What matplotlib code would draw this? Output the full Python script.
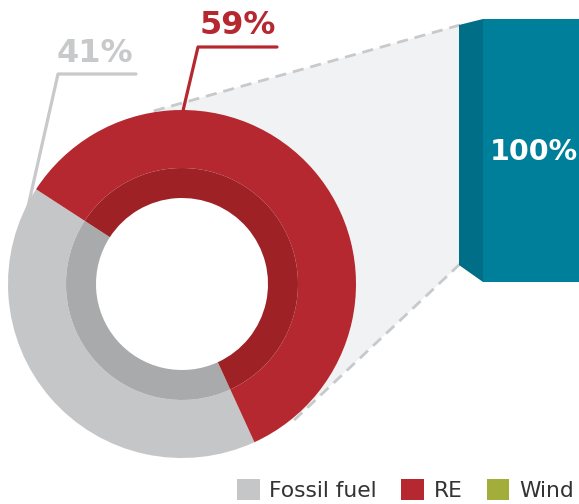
import matplotlib.pyplot as plt
from matplotlib.patches import Polygon, Patch

# data
labels = ["Fossil fuel", "RE"]
shares = [41, 59]
legend_labels = ["Fossil fuel", "RE", "Wind"]
legend_colors = ["#c5c6c8", "#b5282f", "#a3ad3a"]
bar_value = 100

outer_colors = ["#c5c6c8", "#b5282f"]
inner_colors = ["#a9aaac", "#9e2126"]

W, H = 579, 504
fig = plt.figure(figsize=(W / 100, H / 100), dpi=100)
ax = fig.add_axes([0, 0, 1, 1])

cx, cy = 182, H - 284
R = 174

# grey zoom area behind the donut (kept out of the hole)
pts = [(157, 110), (460, 25), (460, 264), (300, 414), (285, 330), (265, 215), (200, 155)]
zoom = Polygon([(x, H - y) for x, y in pts], closed=True,
               facecolor="#f1f2f4", edgecolor="none", zorder=0)
ax.add_patch(zoom)
ax.plot([460, 150], [H - 25, H - 112], ls=(0, (4, 2.5)), color="#c8c9cb", lw=2, zorder=1)
ax.plot([460, 290], [H - 264, H - 424], ls=(0, (4, 2.5)), color="#c8c9cb", lw=2, zorder=1)

# leader lines
ax.plot([136, 58, 25], [H - 74, H - 74, H - 220], color="#c8c9cb", lw=2.3,
        solid_capstyle="round", zorder=1)
ax.plot([277, 198, 182], [H - 47, H - 47, H - 115], color="#b5282f", lw=2.3,
        solid_capstyle="round", zorder=1)

# donut
w1, _ = ax.pie(shares, colors=outer_colors, radius=R, center=(cx, cy), startangle=147,
               counterclock=True, wedgeprops=dict(width=R - 116, edgecolor="none"))
w2, _ = ax.pie(shares, colors=inner_colors, radius=116, center=(cx, cy), startangle=147,
               counterclock=True, wedgeprops=dict(width=30, edgecolor="none"))
for w in w1 + w2:
    w.set_zorder(2)

ax.text(95, H - 53, f"{shares[0]}%", color="#c8c9cb", fontsize=23, fontweight="bold",
        ha="center", va="center", zorder=3)
ax.text(238, H - 25, f"{shares[1]}%", color="#b5282f", fontsize=23, fontweight="bold",
        ha="center", va="center", zorder=3)

# 100% bar (front face + side face)
scale = (282 - 19) / bar_value
bottom = H - 282
ax.bar([531], [bar_value * scale], width=96, bottom=bottom, color="#007f9a", zorder=2)
top = bottom + bar_value * scale
side = Polygon([(459, H - 25), (483, top), (483, bottom), (459, H - 265)], closed=True,
               facecolor="#006e86", edgecolor="none", zorder=2)
ax.add_patch(side)
ax.text(534, H - 152, f"{bar_value}%", color="white", fontsize=20.5, fontweight="bold",
        ha="center", va="center", zorder=3)

ax.set_xlim(0, W)
ax.set_ylim(0, H)
ax.set_aspect("auto")
ax.axis("off")

handles = [Patch(facecolor=c, edgecolor="none") for c in legend_colors]
leg = fig.legend(handles, legend_labels, ncol=3, loc="lower right",
                 bbox_to_anchor=(574 / W, 3 / H), frameon=False, fontsize=15.7,
                 handlelength=1.05, handleheight=1.05, handletextpad=0.45,
                 columnspacing=1.1, borderpad=0, borderaxespad=0)
for t in leg.get_texts():
    t.set_color("#333333")

fig.savefig("out.png", dpi=100)
